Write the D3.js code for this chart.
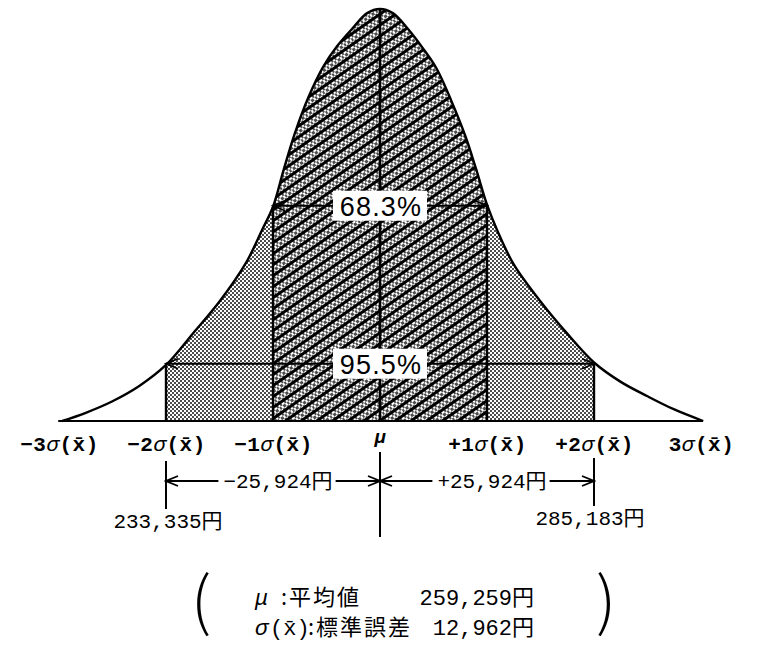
<!DOCTYPE html>
<html lang="ja">
<head>
<meta charset="utf-8">
<script src="https://d3js.org/d3.v7.min.js"></script>
<style>
  body { margin: 0; background: #fff; }
  text { fill: #000; }
  .num { font-family: "Liberation Mono", "Noto Sans CJK JP", monospace; }
  .jp  { font-family: "Noto Sans CJK JP", sans-serif; }
</style>
</head>
<body>
<script>
// values
var mean = 259259, stdErr = 12962;

// curve outline: offset from the mean (in sigma) and height as share of the peak
var curveSigma   = [-2.97, -2.75, -2.5, -2.25, -2.0, -1.75, -1.5, -1.25, -1.1, -1.0, -0.9, -0.8, -0.67, -0.53, -0.4, -0.26, -0.12, 0,
                    0.12, 0.26, 0.4, 0.53, 0.67, 0.8, 0.9, 1.0, 1.1, 1.25, 1.5, 1.75, 2.0, 2.25, 2.5, 2.75, 3.02];
var curveDensity = [0, 0.02, 0.048, 0.085, 0.136, 0.212, 0.29, 0.385, 0.465, 0.52, 0.61, 0.695, 0.785, 0.86, 0.91, 0.952, 0.99, 1,
                    0.99, 0.952, 0.905, 0.855, 0.775, 0.69, 0.61, 0.525, 0.46, 0.38, 0.29, 0.212, 0.142, 0.095, 0.06, 0.028, 0];

var tickSigmas = [-3, -2, -1, 0, 1, 2, 3];
var tickSigns  = ["−3", "−2", "−1", "", "+1", "+2", "3"];

var bandSigmas = [2, 1];
var bandLabels = ["95.5%", "68.3%"];

var diffLabels  = ["−25,924円", "+25,924円"];
var boundLabels = ["233,335円", "285,183円"];

var legendNames  = ["平均値", "標準誤差"];
var legendValues = ["259,259円", "12,962円"];

var width = 758, height = 648;

var x = d3.scaleLinear()
    .domain([mean - 3 * stdErr, mean + 3 * stdErr])
    .range([59, 701]);
var y = d3.scaleLinear()
    .domain([0, 1])
    .range([421, 9]);

var pts = curveSigma.map(function(s, i) { return {s: s, h: curveDensity[i]}; });
function xs(s) { return x(mean + s * stdErr); }
function hAt(s) { return curveDensity[curveSigma.indexOf(s)]; }

var svg = d3.select("body").append("svg")
    .attr("width", width)
    .attr("height", height);

svg.append("rect").attr("width", width).attr("height", height).attr("fill", "#fff");

var defs = svg.append("defs");

// fine staggered stipple
var dots = defs.append("pattern")
    .attr("id", "dots")
    .attr("patternUnits", "userSpaceOnUse")
    .attr("width", 4).attr("height", 4);
dots.append("rect").attr("width", 4).attr("height", 4).attr("fill", "#fff");
dots.selectAll("circle")
    .data([[1, 1], [3, 3]])
    .join("circle")
    .attr("cx", function(d) { return d[0]; })
    .attr("cy", function(d) { return d[1]; })
    .attr("r", 0.95)
    .attr("fill", "#000");

// stipple with thick diagonal lines
var hatch = defs.append("pattern")
    .attr("id", "hatch")
    .attr("patternUnits", "userSpaceOnUse")
    .attr("width", 9).attr("height", 9)
    .attr("patternTransform", "rotate(-35)");
hatch.append("rect").attr("width", 9).attr("height", 9).attr("fill", "url(#dots)");
hatch.append("line")
    .attr("x1", -1).attr("x2", 10).attr("y1", 4.5).attr("y2", 4.5)
    .attr("stroke", "#000").attr("stroke-width", 3);

defs.append("marker")
    .attr("id", "head")
    .attr("viewBox", "-14 -7 16 14")
    .attr("markerUnits", "userSpaceOnUse")
    .attr("markerWidth", 16).attr("markerHeight", 14)
    .attr("refX", 0).attr("refY", 0)
    .attr("orient", "auto-start-reverse")
    .append("path")
    .attr("d", "M-12,-5L0,0L-12,5")
    .attr("fill", "none").attr("stroke", "#000").attr("stroke-width", 1.8);

var area = d3.area()
    .x(function(d) { return xs(d.s); })
    .y0(y(0))
    .y1(function(d) { return y(d.h); })
    .curve(d3.curveCatmullRom.alpha(0.5));

var line = d3.line()
    .x(function(d) { return xs(d.s); })
    .y(function(d) { return y(d.h); })
    .curve(d3.curveCatmullRom.alpha(0.5));

defs.append("clipPath").attr("id", "under")
    .append("path").attr("d", area(pts));

// shaded bands under the curve
svg.append("g").attr("clip-path", "url(#under)")
    .selectAll("rect")
    .data(bandSigmas)
    .join("rect")
    .attr("x", function(s) { return xs(-s); })
    .attr("width", function(s) { return xs(s) - xs(-s); })
    .attr("y", 0)
    .attr("height", y(0))
    .attr("fill", function(s, i) { return i == 0 ? "url(#dots)" : "url(#hatch)"; });

// verticals at +-1 and +-2 sigma
svg.append("g")
    .selectAll("line")
    .data([-2, -1, 1, 2])
    .join("line")
    .attr("x1", xs).attr("x2", xs)
    .attr("y1", y(0))
    .attr("y2", function(s) { return y(hAt(s)); })
    .attr("stroke", "#000").attr("stroke-width", 2.4);

// mean line
svg.append("line")
    .attr("x1", xs(0)).attr("x2", xs(0))
    .attr("y1", y(1)).attr("y2", y(0))
    .attr("stroke", "#000").attr("stroke-width", 2.6);

// range arrows with percentage boxes
var band = svg.append("g").selectAll("g")
    .data(bandSigmas)
    .join("g");

band.append("line")
    .attr("x1", function(s) { return xs(-s); })
    .attr("x2", function(s) { return xs(s); })
    .attr("y1", function(s) { return y((hAt(-s) + hAt(s)) / 2); })
    .attr("y2", function(s) { return y((hAt(-s) + hAt(s)) / 2); })
    .attr("stroke", "#000").attr("stroke-width", 2.2)
    .attr("marker-start", "url(#head)")
    .attr("marker-end", "url(#head)");

band.append("rect")
    .attr("x", xs(0) - 47)
    .attr("width", 94)
    .attr("y", function(s) { return y((hAt(-s) + hAt(s)) / 2) - 15; })
    .attr("height", 30)
    .attr("fill", "#fff");

band.append("text")
    .attr("x", xs(0) + 1)
    .attr("y", function(s) { return y((hAt(-s) + hAt(s)) / 2) + 10; })
    .attr("text-anchor", "middle")
    .attr("font-family", "Liberation Sans, sans-serif")
    .attr("font-size", 27)
    .attr("letter-spacing", 1.2)
    .text(function(s, i) { return bandLabels[i]; });

// the curve and its baseline
svg.append("line")
    .attr("x1", xs(curveSigma[0]) - 4).attr("x2", xs(curveSigma[curveSigma.length - 1]))
    .attr("y1", y(0)).attr("y2", y(0))
    .attr("stroke", "#000").attr("stroke-width", 2.2);

svg.append("path")
    .attr("d", line(pts))
    .attr("fill", "none")
    .attr("stroke", "#000").attr("stroke-width", 2.4);

// sigma axis labels
var axis = svg.append("g")
    .attr("transform", "translate(0," + 433 + ")")
    .call(d3.axisBottom(x)
        .tickValues(tickSigmas.map(function(s) { return mean + s * stdErr; }))
        .tickSize(0)
        .tickFormat(function() { return ""; }));
axis.select(".domain").remove();
axis.selectAll(".tick text").each(function(d, i) {
    var t = d3.select(this)
        .attr("class", "num")
        .attr("font-size", 21)
        .attr("font-weight", "bold")
        .attr("font-family", null)
        .attr("letter-spacing", 0.5)
        .attr("fill", "#000");
    if (tickSigmas[i] == 0) {
        t.attr("dy", "0.35em").attr("font-style", "italic").attr("font-size", 19).text("μ");
        return;
    }
    t.append("tspan").text(tickSigns[i]);
    t.append("tspan").attr("font-style", "italic").attr("font-weight", "normal").text("σ");
    t.append("tspan").text("(x\u0304)");
});

// dimension lines below the axis
var dimY = 481;
svg.append("g")
    .selectAll("line")
    .data([[-2, 461, 509], [0, 452, 537], [2, 458, 506]])
    .join("line")
    .attr("x1", function(d) { return xs(d[0]); })
    .attr("x2", function(d) { return xs(d[0]); })
    .attr("y1", function(d) { return d[1]; })
    .attr("y2", function(d) { return d[2]; })
    .attr("stroke", "#000").attr("stroke-width", 2);

[[-2, 0], [0, 2]].forEach(function(seg, i) {
    var x0 = xs(seg[0]), x1 = xs(seg[1]);
    var tx = (x0 + x1) / 2 + 5;
    var t = svg.append("text")
        .attr("class", "num")
        .attr("x", tx)
        .attr("y", dimY + 7)
        .attr("text-anchor", "middle")
        .attr("font-size", 21)
        .text(diffLabels[i]);
    var w = t.node().getComputedTextLength();
    svg.append("line")
        .attr("x1", x0).attr("x2", tx - w / 2 - 5)
        .attr("y1", dimY).attr("y2", dimY)
        .attr("stroke", "#000").attr("stroke-width", 1.8)
        .attr("marker-start", "url(#head)");
    svg.append("line")
        .attr("x1", tx + w / 2 + 3).attr("x2", x1)
        .attr("y1", dimY).attr("y2", dimY)
        .attr("stroke", "#000").attr("stroke-width", 1.8)
        .attr("marker-end", "url(#head)");
});

svg.append("g")
    .selectAll("text")
    .data([-2, 2])
    .join("text")
    .attr("class", "num")
    .attr("x", function(s, i) { return xs(s) + (i == 0 ? 2 : -4); })
    .attr("y", function(s, i) { return i == 0 ? 528 : 525; })
    .attr("text-anchor", "middle")
    .attr("font-size", 21)
    .text(function(s, i) { return boundLabels[i]; });

// legend in tall thin brackets
svg.selectAll(".paren")
    .data([["(", 201], [")", 606]])
    .join("text")
    .attr("class", "paren jp")
    .attr("x", function(d) { return d[1]; })
    .attr("y", 624)
    .attr("text-anchor", "middle")
    .attr("font-weight", 200)
    .attr("font-size", 64)
    .text(function(d) { return d[0]; });

var l1 = svg.append("text").attr("y", 605).attr("font-size", 22);
l1.append("tspan").attr("x", 255).attr("class", "num").attr("font-style", "italic").text("μ");
l1.append("tspan").attr("x", 281).attr("class", "jp").attr("letter-spacing", 2).text(":" + legendNames[0]);
l1.append("tspan").attr("x", 534).attr("class", "num").attr("text-anchor", "end").text(legendValues[0]);

var l2 = svg.append("text").attr("y", 635).attr("font-size", 22);
l2.append("tspan").attr("x", 255).attr("class", "num").attr("font-style", "italic").text("σ");
l2.append("tspan").attr("x", 270).attr("class", "num").text("(x\u0304)");
l2.append("tspan").attr("x", 308).attr("class", "jp").attr("letter-spacing", 2).text(":" + legendNames[1]);
l2.append("tspan").attr("x", 534).attr("class", "num").attr("text-anchor", "end").text(legendValues[1]);
</script>
</body>
</html>
